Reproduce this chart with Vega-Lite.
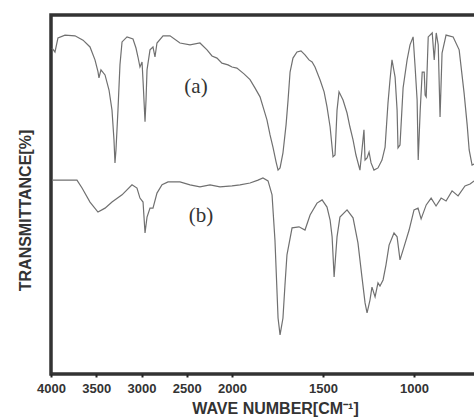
{
  "$schema": "https://vega.github.io/schema/vega-lite/v6.json",
  "width": 426,
  "height": 359,
  "autosize": "none",
  "padding": {"left": 51, "top": 15, "right": 0, "bottom": 45},
  "background": "white",
  "config": {
    "view": {"stroke": "#333333", "strokeWidth": 3.5},
    "font": "Liberation Sans"
  },
  "datasets": {
    "spectra": [
      {"sample":"a","wavenumber":3989,"transmittance":90.8},
      {"sample":"a","wavenumber":3956,"transmittance":89.7},
      {"sample":"a","wavenumber":3923,"transmittance":93.6},
      {"sample":"a","wavenumber":3845,"transmittance":94.4},
      {"sample":"a","wavenumber":3735,"transmittance":94.2},
      {"sample":"a","wavenumber":3646,"transmittance":93.0},
      {"sample":"a","wavenumber":3569,"transmittance":91.1},
      {"sample":"a","wavenumber":3514,"transmittance":87.5},
      {"sample":"a","wavenumber":3481,"transmittance":84.2},
      {"sample":"a","wavenumber":3470,"transmittance":82.5},
      {"sample":"a","wavenumber":3448,"transmittance":84.7},
      {"sample":"a","wavenumber":3403,"transmittance":83.3},
      {"sample":"a","wavenumber":3359,"transmittance":79.1},
      {"sample":"a","wavenumber":3326,"transmittance":73.5},
      {"sample":"a","wavenumber":3304,"transmittance":65.2},
      {"sample":"a","wavenumber":3293,"transmittance":58.8},
      {"sample":"a","wavenumber":3282,"transmittance":62.4},
      {"sample":"a","wavenumber":3260,"transmittance":73.5},
      {"sample":"a","wavenumber":3238,"transmittance":86.1},
      {"sample":"a","wavenumber":3215,"transmittance":92.5},
      {"sample":"a","wavenumber":3160,"transmittance":93.9},
      {"sample":"a","wavenumber":3094,"transmittance":93.3},
      {"sample":"a","wavenumber":3061,"transmittance":90.8},
      {"sample":"a","wavenumber":3039,"transmittance":88.3},
      {"sample":"a","wavenumber":3017,"transmittance":85.5},
      {"sample":"a","wavenumber":2994,"transmittance":86.9},
      {"sample":"a","wavenumber":2983,"transmittance":81.7},
      {"sample":"a","wavenumber":2961,"transmittance":70.3},
      {"sample":"a","wavenumber":2950,"transmittance":76.3},
      {"sample":"a","wavenumber":2939,"transmittance":84.7},
      {"sample":"a","wavenumber":2906,"transmittance":90.3},
      {"sample":"a","wavenumber":2873,"transmittance":91.1},
      {"sample":"a","wavenumber":2851,"transmittance":88.3},
      {"sample":"a","wavenumber":2829,"transmittance":92.2},
      {"sample":"a","wavenumber":2762,"transmittance":94.2},
      {"sample":"a","wavenumber":2685,"transmittance":94.2},
      {"sample":"a","wavenumber":2575,"transmittance":92.2},
      {"sample":"a","wavenumber":2464,"transmittance":91.7},
      {"sample":"a","wavenumber":2354,"transmittance":92.2},
      {"sample":"a","wavenumber":2276,"transmittance":90.3},
      {"sample":"a","wavenumber":2221,"transmittance":88.6},
      {"sample":"a","wavenumber":2166,"transmittance":88.0},
      {"sample":"a","wavenumber":2111,"transmittance":86.6},
      {"sample":"a","wavenumber":2044,"transmittance":86.1},
      {"sample":"a","wavenumber":2000,"transmittance":85.5},
      {"sample":"a","wavenumber":1973,"transmittance":85.2},
      {"sample":"a","wavenumber":1934,"transmittance":83.6},
      {"sample":"a","wavenumber":1901,"transmittance":82.0},
      {"sample":"a","wavenumber":1874,"transmittance":79.7},
      {"sample":"a","wavenumber":1846,"transmittance":77.2},
      {"sample":"a","wavenumber":1824,"transmittance":73.5},
      {"sample":"a","wavenumber":1808,"transmittance":70.8},
      {"sample":"a","wavenumber":1791,"transmittance":66.6},
      {"sample":"a","wavenumber":1775,"transmittance":63.2},
      {"sample":"a","wavenumber":1758,"transmittance":59.1},
      {"sample":"a","wavenumber":1747,"transmittance":56.8},
      {"sample":"a","wavenumber":1736,"transmittance":57.4},
      {"sample":"a","wavenumber":1720,"transmittance":61.6},
      {"sample":"a","wavenumber":1703,"transmittance":69.4},
      {"sample":"a","wavenumber":1692,"transmittance":76.3},
      {"sample":"a","wavenumber":1681,"transmittance":84.1},
      {"sample":"a","wavenumber":1665,"transmittance":88.0},
      {"sample":"a","wavenumber":1643,"transmittance":89.7},
      {"sample":"a","wavenumber":1621,"transmittance":90.0},
      {"sample":"a","wavenumber":1599,"transmittance":88.9},
      {"sample":"a","wavenumber":1577,"transmittance":87.5},
      {"sample":"a","wavenumber":1560,"transmittance":86.9},
      {"sample":"a","wavenumber":1544,"transmittance":85.5},
      {"sample":"a","wavenumber":1516,"transmittance":81.9},
      {"sample":"a","wavenumber":1494,"transmittance":78.6},
      {"sample":"a","wavenumber":1478,"transmittance":74.4},
      {"sample":"a","wavenumber":1461,"transmittance":68.8},
      {"sample":"a","wavenumber":1445,"transmittance":60.5},
      {"sample":"a","wavenumber":1434,"transmittance":61.0},
      {"sample":"a","wavenumber":1423,"transmittance":73.5},
      {"sample":"a","wavenumber":1412,"transmittance":78.6},
      {"sample":"a","wavenumber":1390,"transmittance":76.3},
      {"sample":"a","wavenumber":1368,"transmittance":72.7},
      {"sample":"a","wavenumber":1352,"transmittance":68.8},
      {"sample":"a","wavenumber":1335,"transmittance":65.2},
      {"sample":"a","wavenumber":1319,"transmittance":61.0},
      {"sample":"a","wavenumber":1297,"transmittance":56.8},
      {"sample":"a","wavenumber":1286,"transmittance":62.4},
      {"sample":"a","wavenumber":1275,"transmittance":68.0},
      {"sample":"a","wavenumber":1269,"transmittance":59.6},
      {"sample":"a","wavenumber":1258,"transmittance":60.2},
      {"sample":"a","wavenumber":1247,"transmittance":61.8},
      {"sample":"a","wavenumber":1236,"transmittance":58.8},
      {"sample":"a","wavenumber":1220,"transmittance":56.8},
      {"sample":"a","wavenumber":1198,"transmittance":57.4},
      {"sample":"a","wavenumber":1176,"transmittance":59.6},
      {"sample":"a","wavenumber":1159,"transmittance":63.2},
      {"sample":"a","wavenumber":1143,"transmittance":75.5},
      {"sample":"a","wavenumber":1132,"transmittance":81.9},
      {"sample":"a","wavenumber":1121,"transmittance":87.5},
      {"sample":"a","wavenumber":1104,"transmittance":82.7},
      {"sample":"a","wavenumber":1093,"transmittance":73.5},
      {"sample":"a","wavenumber":1088,"transmittance":63.0},
      {"sample":"a","wavenumber":1077,"transmittance":63.8},
      {"sample":"a","wavenumber":1060,"transmittance":79.7},
      {"sample":"a","wavenumber":1038,"transmittance":87.5},
      {"sample":"a","wavenumber":1022,"transmittance":91.7},
      {"sample":"a","wavenumber":1005,"transmittance":93.9},
      {"sample":"a","wavenumber":994,"transmittance":85.5},
      {"sample":"a","wavenumber":983,"transmittance":76.3},
      {"sample":"a","wavenumber":977,"transmittance":59.6},
      {"sample":"a","wavenumber":966,"transmittance":73.5},
      {"sample":"a","wavenumber":955,"transmittance":84.1},
      {"sample":"a","wavenumber":944,"transmittance":84.1},
      {"sample":"a","wavenumber":939,"transmittance":77.7},
      {"sample":"a","wavenumber":933,"transmittance":77.2},
      {"sample":"a","wavenumber":922,"transmittance":93.9},
      {"sample":"a","wavenumber":900,"transmittance":95.0},
      {"sample":"a","wavenumber":889,"transmittance":87.5},
      {"sample":"a","wavenumber":878,"transmittance":95.0},
      {"sample":"a","wavenumber":867,"transmittance":91.7},
      {"sample":"a","wavenumber":857,"transmittance":71.6},
      {"sample":"a","wavenumber":846,"transmittance":89.4},
      {"sample":"a","wavenumber":824,"transmittance":94.4},
      {"sample":"a","wavenumber":785,"transmittance":93.9},
      {"sample":"a","wavenumber":752,"transmittance":90.3},
      {"sample":"a","wavenumber":725,"transmittance":78.3},
      {"sample":"a","wavenumber":708,"transmittance":69.4},
      {"sample":"a","wavenumber":697,"transmittance":62.4},
      {"sample":"a","wavenumber":681,"transmittance":58.2},
      {"sample":"a","wavenumber":670,"transmittance":58.5},
      {"sample":"b","wavenumber":3989,"transmittance":54.0},
      {"sample":"b","wavenumber":3713,"transmittance":54.0},
      {"sample":"b","wavenumber":3657,"transmittance":51.8},
      {"sample":"b","wavenumber":3569,"transmittance":47.9},
      {"sample":"b","wavenumber":3481,"transmittance":45.1},
      {"sample":"b","wavenumber":3403,"transmittance":46.2},
      {"sample":"b","wavenumber":3326,"transmittance":47.9},
      {"sample":"b","wavenumber":3215,"transmittance":49.9},
      {"sample":"b","wavenumber":3105,"transmittance":52.7},
      {"sample":"b","wavenumber":3050,"transmittance":51.8},
      {"sample":"b","wavenumber":3017,"transmittance":49.0},
      {"sample":"b","wavenumber":2983,"transmittance":47.9},
      {"sample":"b","wavenumber":2961,"transmittance":39.3},
      {"sample":"b","wavenumber":2939,"transmittance":43.7},
      {"sample":"b","wavenumber":2906,"transmittance":46.2},
      {"sample":"b","wavenumber":2873,"transmittance":46.2},
      {"sample":"b","wavenumber":2829,"transmittance":50.4},
      {"sample":"b","wavenumber":2773,"transmittance":52.7},
      {"sample":"b","wavenumber":2707,"transmittance":53.5},
      {"sample":"b","wavenumber":2652,"transmittance":53.5},
      {"sample":"b","wavenumber":2575,"transmittance":53.5},
      {"sample":"b","wavenumber":2464,"transmittance":52.7},
      {"sample":"b","wavenumber":2354,"transmittance":52.1},
      {"sample":"b","wavenumber":2243,"transmittance":52.7},
      {"sample":"b","wavenumber":2133,"transmittance":52.1},
      {"sample":"b","wavenumber":2000,"transmittance":52.4},
      {"sample":"b","wavenumber":1956,"transmittance":52.7},
      {"sample":"b","wavenumber":1901,"transmittance":53.2},
      {"sample":"b","wavenumber":1857,"transmittance":54.0},
      {"sample":"b","wavenumber":1830,"transmittance":54.6},
      {"sample":"b","wavenumber":1802,"transmittance":53.8},
      {"sample":"b","wavenumber":1780,"transmittance":49.9},
      {"sample":"b","wavenumber":1764,"transmittance":37.3},
      {"sample":"b","wavenumber":1747,"transmittance":15.6},
      {"sample":"b","wavenumber":1736,"transmittance":10.9},
      {"sample":"b","wavenumber":1720,"transmittance":15.6},
      {"sample":"b","wavenumber":1709,"transmittance":24.8},
      {"sample":"b","wavenumber":1698,"transmittance":33.2},
      {"sample":"b","wavenumber":1670,"transmittance":40.7},
      {"sample":"b","wavenumber":1632,"transmittance":41.0},
      {"sample":"b","wavenumber":1599,"transmittance":40.1},
      {"sample":"b","wavenumber":1571,"transmittance":44.3},
      {"sample":"b","wavenumber":1533,"transmittance":47.6},
      {"sample":"b","wavenumber":1505,"transmittance":48.5},
      {"sample":"b","wavenumber":1478,"transmittance":46.5},
      {"sample":"b","wavenumber":1461,"transmittance":42.9},
      {"sample":"b","wavenumber":1450,"transmittance":38.2},
      {"sample":"b","wavenumber":1439,"transmittance":27.0},
      {"sample":"b","wavenumber":1423,"transmittance":38.2},
      {"sample":"b","wavenumber":1407,"transmittance":43.7},
      {"sample":"b","wavenumber":1368,"transmittance":45.7},
      {"sample":"b","wavenumber":1335,"transmittance":43.5},
      {"sample":"b","wavenumber":1308,"transmittance":36.5},
      {"sample":"b","wavenumber":1286,"transmittance":27.0},
      {"sample":"b","wavenumber":1269,"transmittance":19.8},
      {"sample":"b","wavenumber":1258,"transmittance":17.0},
      {"sample":"b","wavenumber":1242,"transmittance":20.6},
      {"sample":"b","wavenumber":1231,"transmittance":24.2},
      {"sample":"b","wavenumber":1214,"transmittance":21.5},
      {"sample":"b","wavenumber":1198,"transmittance":25.4},
      {"sample":"b","wavenumber":1187,"transmittance":24.5},
      {"sample":"b","wavenumber":1170,"transmittance":26.2},
      {"sample":"b","wavenumber":1154,"transmittance":30.4},
      {"sample":"b","wavenumber":1137,"transmittance":35.9},
      {"sample":"b","wavenumber":1110,"transmittance":39.3},
      {"sample":"b","wavenumber":1093,"transmittance":38.2},
      {"sample":"b","wavenumber":1077,"transmittance":31.8},
      {"sample":"b","wavenumber":1055,"transmittance":35.4},
      {"sample":"b","wavenumber":1027,"transmittance":40.1},
      {"sample":"b","wavenumber":1000,"transmittance":45.7},
      {"sample":"b","wavenumber":978,"transmittance":46.2},
      {"sample":"b","wavenumber":961,"transmittance":43.2},
      {"sample":"b","wavenumber":933,"transmittance":47.1},
      {"sample":"b","wavenumber":906,"transmittance":49.0},
      {"sample":"b","wavenumber":879,"transmittance":46.8},
      {"sample":"b","wavenumber":851,"transmittance":49.0},
      {"sample":"b","wavenumber":824,"transmittance":48.2},
      {"sample":"b","wavenumber":791,"transmittance":51.0},
      {"sample":"b","wavenumber":758,"transmittance":49.6},
      {"sample":"b","wavenumber":720,"transmittance":52.4},
      {"sample":"b","wavenumber":692,"transmittance":52.9},
      {"sample":"b","wavenumber":670,"transmittance":53.8}
    ],
    "labels": [
      {"label":"(a)","wavenumber":2398,"transmittance":80.0},
      {"label":"(b)","wavenumber":2342,"transmittance":44.0}
    ]
  },
  "layer": [
    {
      "data": {"name": "spectra"},
      "mark": {"type": "line", "color": "#707070", "strokeWidth": 1.2, "clip": true},
      "encoding": {
        "x": {
          "field": "wavenumber",
          "type": "quantitative",
          "scale": {"domain": [4000, 2000, 654], "range": [0, 181, 426], "nice": false, "zero": false},
          "axis": {
            "values": [4000, 3500, 3000, 2500, 2000, 1500, 1000],
            "format": "d",
            "domain": false,
            "grid": false,
            "ticks": true,
            "tickSize": 3,
            "tickWidth": 2,
            "tickColor": "#222222",
            "labelFlush": false,
            "labelPadding": 5,
            "labelFontSize": 13,
            "labelFontWeight": "bold",
            "labelColor": "#333333",
            "labelFont": "Liberation Sans",
            "title": "WAVE NUMBER[CM⁻¹]",
            "titleFontSize": 16,
            "titleFontWeight": "bold",
            "titleColor": "#333333",
            "titleFont": "Liberation Sans",
            "titleAnchor": "middle",
            "titleAlign": "center",
            "titleX": 224,
            "titlePadding": 5
          }
        },
        "y": {
          "field": "transmittance",
          "type": "quantitative",
          "scale": {"domain": [0, 100], "nice": false, "zero": false},
          "axis": {
            "labels": false,
            "ticks": false,
            "domain": false,
            "grid": false,
            "title": "TRANSMITTANCE[%]",
            "titleFontSize": 16,
            "titleFontWeight": "bold",
            "titleColor": "#333333",
            "titleFont": "Liberation Sans",
            "titleAnchor": "middle",
            "titleY": 195,
            "titlePadding": 18
          }
        },
        "detail": {"field": "sample", "type": "nominal"}
      }
    },
    {
      "data": {"name": "labels"},
      "mark": {"type": "text", "font": "Liberation Serif", "fontSize": 21, "color": "#333333"},
      "encoding": {
        "x": {"field": "wavenumber", "type": "quantitative"},
        "y": {"field": "transmittance", "type": "quantitative"},
        "text": {"field": "label"}
      }
    }
  ]
}
